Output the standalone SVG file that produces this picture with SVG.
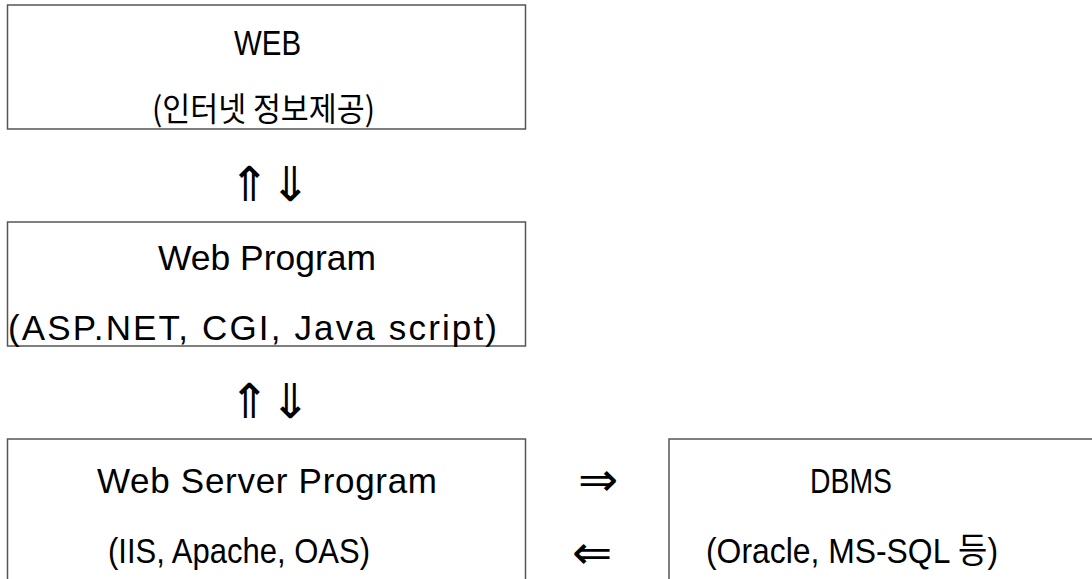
<svg xmlns="http://www.w3.org/2000/svg" width="1092" height="579" viewBox="0 0 1092 579">
<style>
.box{fill:#fff;stroke:#555;stroke-width:1.5}
.t{font-family:"Liberation Sans","Noto Sans CJK KR",sans-serif;font-size:35px;fill:#000}
.k{font-family:"Noto Sans CJK KR","Liberation Sans",sans-serif;font-size:33px;fill:#000}
.a{font-family:"DejaVu Sans",sans-serif;font-size:48px;fill:#000}
</style>
<rect width="1092" height="579" fill="#fff"/>
<g id="web">
<rect class="box" x="7.5" y="5" width="518" height="124"/>
<text class="t" x="234" y="55" textLength="67" lengthAdjust="spacingAndGlyphs">WEB</text>
<text class="k" x="152" y="121" textLength="223" lengthAdjust="spacingAndGlyphs">(인터넷 정보제공)</text>
</g>
<g id="webprogram">
<rect class="box" x="7.5" y="222" width="518" height="124"/>
<text class="t" x="158" y="270" textLength="218" lengthAdjust="spacingAndGlyphs">Web Program</text>
<text class="t" x="8" y="340" textLength="489" lengthAdjust="spacing">(ASP.NET, CGI, Java script)</text>
</g>
<g id="webserver">
<rect class="box" x="7.5" y="439" width="518" height="160"/>
<text class="t" x="97" y="493" textLength="340" lengthAdjust="spacing">Web Server Program</text>
<text class="t" x="108" y="563" textLength="262" lengthAdjust="spacingAndGlyphs">(IIS, Apache, OAS)</text>
</g>
<g id="dbms">
<rect class="box" x="669" y="439" width="440" height="160"/>
<text class="t" x="810" y="493" textLength="82" lengthAdjust="spacingAndGlyphs">DBMS</text>
<text class="t" x="706" y="563" font-size="33" textLength="292" lengthAdjust="spacingAndGlyphs">(Oracle, MS-SQL 등)</text>
</g>
<g id="connectors">
<text class="a" x="229" y="201">⇑</text>
<text class="a" x="270" y="201">⇓</text>
<text class="a" x="229" y="418">⇑</text>
<text class="a" x="270" y="418">⇓</text>
<text class="a" x="578" y="496">⇒</text>
<text class="a" x="572" y="569">⇐</text>
</g>
</svg>
